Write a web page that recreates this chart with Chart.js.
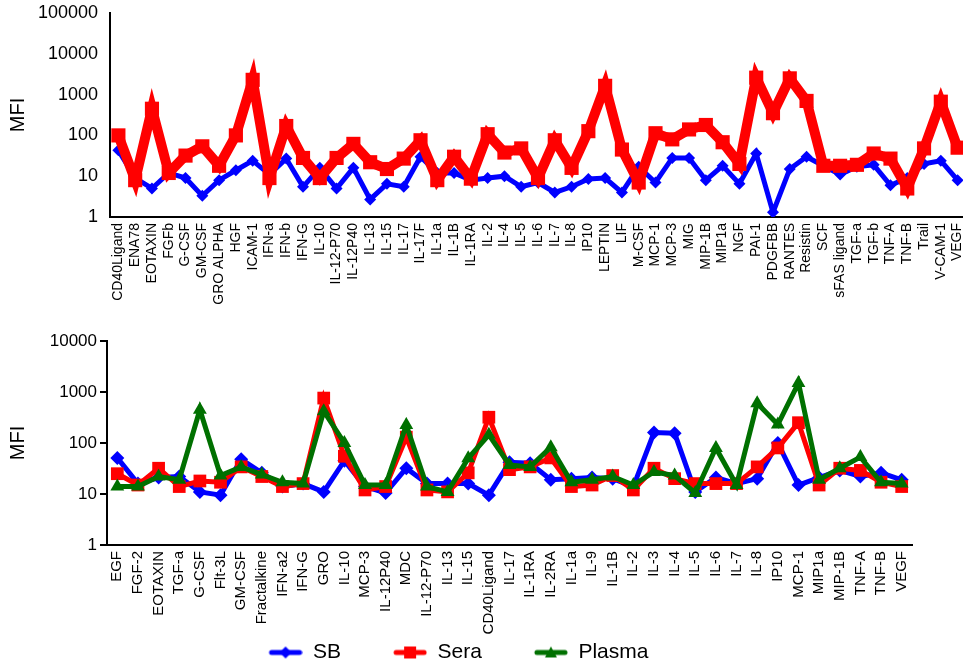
<!DOCTYPE html>
<html>
<head>
<meta charset="utf-8">
<script src="https://cdn.jsdelivr.net/npm/chart.js@4.4.1/dist/chart.umd.min.js"></script>
<style>
    html, body { margin: 0; padding: 0; background: #fff; overflow: hidden; width: 963px; height: 666px; }
    #topChart { position: absolute; left: 0; top: 0; }
    #bottomChart { position: absolute; left: 0; top: 330px; }
</style>
</head>
<body>
<canvas id="topChart" width="976" height="330"></canvas>
<canvas id="bottomChart" width="963" height="343"></canvas>
<script>
// top panel (SB vs sera)
const topLabels = ["CD40Ligand", "ENA78", "EOTAXIN", "FGFb", "G-CSF", "GM-CSF", "GRO ALPHA", "HGF", "ICAM-1", "IFN-a",
    "IFN-b", "IFN-G", "IL-10", "IL-12-P70", "IL-12P40", "IL-13", "IL-15", "IL-17", "IL-17F", "IL-1a",
    "IL-1B", "IL-1RA", "IL-2", "IL-4", "IL-5", "IL-6", "IL-7", "IL-8", "IP10", "LEPTIN",
    "LIF", "M-CSF", "MCP-1", "MCP-3", "MIG", "MIP-1B", "MIP1a", "NGF", "PAI-1", "PDGFBB",
    "RANTES", "Resistin", "SCF", "sFAS ligand", "TGF-a", "TGF-b", "TNF-A", "TNF-B", "Trail", "V-CAM-1", "VEGF"];
const topSB = [43, 9, 5, 12, 9, 3.3, 8, 14, 24, 11, 27, 5.5, 16, 5, 16, 2.7, 6.5, 5.5, 30, 12,
    12, 8, 9, 10, 5.5, 7, 4, 5.5, 8.5, 9, 4, 17, 7, 28, 28, 8, 18, 6.5, 36, 1.3,
    15, 30, 18, 11, 17, 19, 6, 9, 20, 24, 8];
const topSera = [100, 8, 450, 12, 32, 54, 18, 100, 2300, 9, 170, 28, 9, 28, 62, 22, 15, 27, 76, 8,
    30, 8.7, 107, 38, 48, 9, 76, 16, 127, 1640, 45, 7, 113, 80, 140, 180, 68, 20, 2600, 350,
    2500, 700, 18, 18, 19, 36, 27, 5, 48, 670, 50];
const topTicks = [1, 10, 100, 1000, 10000, 100000];

// bottom panel (SB vs sera vs plasma)
const bottomLabels = ["EGF", "FGF-2", "EOTAXIN", "TGF-a", "G-CSF", "Flt-3L", "GM-CSF", "Fractalkine", "IFN-a2", "IFN-G",
    "GRO", "IL-10", "MCP-3", "IL-12P40", "MDC", "IL-12-P70", "IL-13", "IL-15", "CD40Ligand", "IL-17",
    "IL-1RA", "IL-2RA", "IL-1a", "IL-9", "IL-1B", "IL-2", "IL-3", "IL-4", "IL-5", "IL-6",
    "IL-7", "IL-8", "IP10", "MCP-1", "MIP1a", "MIP-1B", "TNF-A", "TNF-B", "VEGF"];
const bottomSB = [51, 16, 21, 22, 11, 9.5, 48, 26, 14, 16, 11, 45, 14, 10.5, 32, 16, 16, 16, 9.5, 42,
    40, 19, 20, 21, 20, 14, 160, 155, 11, 21, 16, 20, 100, 15, 21, 29, 22, 26, 19];
const bottomSera = [25, 15, 32, 14, 18, 17, 34, 22, 14, 16, 760, 55, 12, 14, 130, 12, 11, 26, 320, 30,
    34, 51, 14, 15, 23, 12, 32, 20, 16, 16, 16, 34, 80, 250, 15, 32, 29, 17, 14];
const bottomPlasma = [14, 14, 22, 19, 450, 23, 34, 24, 17, 16, 420, 100, 15, 15, 225, 14, 11, 50, 145, 37,
    34, 83, 17, 19, 22, 15, 27, 23, 10.5, 80, 15, 600, 230, 1500, 19, 32, 53, 17, 16];
const bottomTicks = [1, 10, 100, 1000, 10000];

const BLUE = "#0000ff", RED = "#ff0000", GREEN = "#007000";

Chart.defaults.font.family = "'Liberation Sans', Arial, sans-serif";
Chart.defaults.color = "#000";

function logAxis(ticks, width, fontSize, tickMarks, titlePad) {
    return {
        type: "logarithmic",
        min: ticks[0],
        max: ticks[ticks.length - 1],
        afterBuildTicks: s => { s.ticks = ticks.map(v => ({ value: v })); },
        afterFit: s => { s.width = width; s.paddingTop = 0; s.paddingBottom = 0; },
        ticks: { font: { size: fontSize }, padding: tickMarks ? 3 : 12, callback: v => String(v) },
        grid: { display: tickMarks, drawOnChartArea: false, drawTicks: tickMarks, tickLength: 7, color: "#000", lineWidth: 2 },
        border: { display: true, color: "#000", width: 2 },
        title: { display: true, text: "MFI", font: { size: 20 }, padding: { top: titlePad, bottom: 0 } }
    };
}

function catAxis(height, fontSize) {
    return {
        type: "category",
        offset: true,
        afterFit: s => { s.height = height; s.paddingLeft = 0; s.paddingRight = 0; },
        ticks: { autoSkip: false, minRotation: 90, maxRotation: 90, padding: 6, font: { size: fontSize } },
        grid: { display: false, drawTicks: false },
        border: { display: true, color: "#000", width: 2 }
    };
}

// line + marker picture for the legend (blank space on the left keeps the items apart)
function legendIcon(color, style) {
    const c = document.createElement("canvas");
    c.width = 79; c.height = 16;
    const g = c.getContext("2d");
    g.strokeStyle = color; g.fillStyle = color; g.lineWidth = 5; g.lineCap = "round";
    g.beginPath(); g.moveTo(48, 8); g.lineTo(76, 8); g.stroke();
    g.beginPath();
    if (style === "diamond") {
        g.moveTo(62, 2); g.lineTo(68, 8); g.lineTo(62, 14); g.lineTo(56, 8);
    } else if (style === "square") {
        g.rect(56, 2, 12, 12);
    } else {
        g.moveTo(62, 2); g.lineTo(68, 13); g.lineTo(56, 13);
    }
    g.closePath(); g.fill();
    return c;
}
const legendIcons = [legendIcon(BLUE, "diamond"), legendIcon(RED, "square"), legendIcon(GREEN, "triangle")];

new Chart(document.getElementById("topChart"), {
    type: "line",
    data: {
        labels: topLabels,
        datasets: [{
            label: "SB", data: topSB, order: 2,
            borderColor: BLUE, backgroundColor: BLUE, borderWidth: 5,
            pointStyle: "rectRot", pointRadius: 6, pointBorderWidth: 0
        }, {
            label: "Sera", data: topSera, order: 1,
            borderColor: RED, backgroundColor: RED, borderWidth: 10,
            pointStyle: "rect", pointRadius: 10, pointBorderWidth: 0
        }]
    },
    options: {
        responsive: false,
        devicePixelRatio: 1,
        animation: false,
        layout: { padding: { top: 13, right: 0, bottom: 0, left: 0 } },
        plugins: { legend: { display: false }, tooltip: { enabled: false } },
        scales: { x: catAxis(113, 14), y: logAxis(topTicks, 110, 18, false, 6) }
    }
});

new Chart(document.getElementById("bottomChart"), {
    type: "line",
    data: {
        labels: bottomLabels,
        datasets: [{
            label: "SB", data: bottomSB, order: 2,
            borderColor: BLUE, backgroundColor: BLUE, borderWidth: 5,
            pointStyle: "rectRot", pointRadius: 7, pointBorderWidth: 0
        }, {
            label: "Sera", data: bottomSera, order: 1,
            borderColor: RED, backgroundColor: RED, borderWidth: 5,
            pointStyle: "rect", pointRadius: 9, pointBorderWidth: 0
        }, {
            label: "Plasma", data: bottomPlasma, order: 0,
            borderColor: GREEN, backgroundColor: GREEN, borderWidth: 5,
            pointStyle: "triangle", pointRadius: 8, pointBorderWidth: 0
        }]
    },
    options: {
        responsive: false,
        devicePixelRatio: 1,
        animation: false,
        // negative left padding moves the centred legend leftwards; y axis width makes up for it
        layout: { padding: { top: 11, right: 51, bottom: 0, left: -40 } },
        plugins: {
            tooltip: { enabled: false },
            legend: {
                position: "bottom",
                labels: {
                    usePointStyle: true,
                    pointStyleWidth: 79,
                    padding: 7,
                    font: { size: 21 },
                    sort: (a, b) => a.datasetIndex - b.datasetIndex,
                    generateLabels: chart => Chart.defaults.plugins.legend.labels.generateLabels(chart)
                        .map(item => Object.assign(item, { pointStyle: legendIcons[item.datasetIndex] }))
                }
            }
        },
        scales: { x: catAxis(90, 15), y: logAxis(bottomTicks, 147, 17, true, 46) }
    }
});
</script>
</body>
</html>
